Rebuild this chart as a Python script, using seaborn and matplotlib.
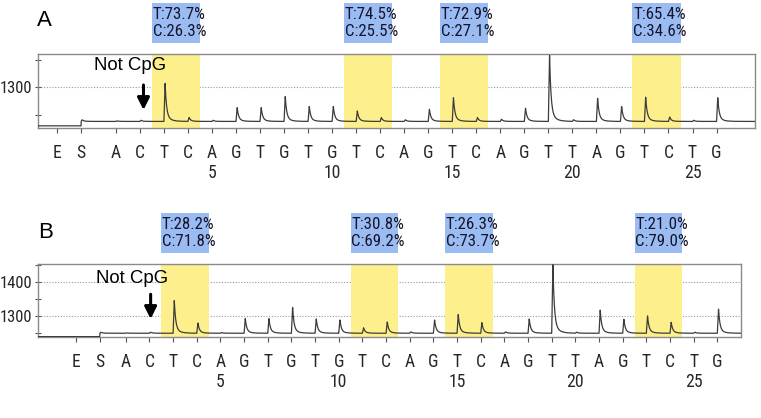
import numpy as np
import matplotlib
matplotlib.use("Agg")
import matplotlib.pyplot as plt
import seaborn as sns
from matplotlib import font_manager
from matplotlib.patches import Rectangle
from matplotlib.transforms import blended_transform_factory
from matplotlib.ticker import FixedLocator

W, H = 761, 418

# dispensation order (after E and S)
dispensation = list("ACTCAGTGTGTCAGTCAGTTAGTCTG")

# peak heights above baseline
heights_a = [1, 2, 69, 7, 2, 25, 25, 45, 27, 27, 19, 7, 3, 22, 43, 7, 4, 24, 120, 3, 42, 27, 44, 8, 2, 43]
heights_b = [1, 3, 96, 30, 2, 43, 43, 76, 42, 39, 16, 33, 4, 39, 55, 31, 4, 42, 202, 3, 68, 41, 51, 32, 3, 71]

# CpG sites (position of the T of each T/C pair)
cpg_pos = [3, 11, 15, 23]
pct_t_a = [73.7, 74.5, 72.9, 65.4]
pct_c_a = [26.3, 25.5, 27.1, 34.6]
pct_t_b = [28.2, 30.8, 26.3, 21.0]
pct_c_b = [71.8, 69.2, 73.7, 79.0]

REG = ["Liberation Sans", "DejaVu Sans"]
YELLOW = "#fdf08c"
BLUE = "#9bbbf3"
LINE = "#3c3c3c"

# narrow font if there is one, otherwise smaller regular text
installed = {f.name for f in font_manager.fontManager.ttflist}
narrow = None
for cand in ["Liberation Sans Narrow", "Roboto Condensed", "Open Sans Condensed",
             "DejaVu Sans Condensed", "Noto Sans Condensed"]:
    if cand in installed:
        narrow = cand
        break
if narrow:
    NARROW = [narrow, "DejaVu Sans"]
    fs_tick, fs_y, fs_box = 12.7, 12.0, 12.2
else:
    NARROW = REG
    fs_tick, fs_y, fs_box = 12.0, 10.4, 10.2

sns.set_theme(style="white")
plt.rcParams["font.family"] = REG


def trace(heights, s_pos, base_pre, base_post, xlim):
    x = np.arange(xlim[0], xlim[1], 0.01)
    y = np.where(x < s_pos, base_pre, base_post).astype(float)
    pos = list(range(1, len(heights) + 1)) + [s_pos]
    hh = list(heights) + [3]
    for p, h in zip(pos, hh):
        d = x - p
        rise = np.clip(d / 0.05, 0, 1)
        dd = np.clip(d - 0.05, 0, None)
        decay = 0.85 * np.exp(-dd / 0.06) + 0.15 * np.exp(-dd / 0.2)
        y += h * np.where(d < 0, 0, np.where(d < 0.05, rise, decay))
    return x, y


def panel(rect, heights, e_pos, s_pos, base_pre, base_post, xlim, ylim,
          major, minor, pt, pc, box_px, letter, letter_px, note_px, arrow_x, arrow_px):
    fig = plt.gcf()
    ax = fig.add_axes(rect)
    x, y = trace(heights, s_pos, base_pre, base_post, xlim)
    sns.lineplot(x=x, y=y, ax=ax, color=LINE, linewidth=0.9, estimator=None, sort=False, zorder=3)
    ax.set_xlim(*xlim)
    ax.set_ylim(*ylim)

    for p in cpg_pos:
        ax.axvspan(p - 0.5, p + 1.5, color=YELLOW, zorder=1, lw=0)

    ax.set_axisbelow(True)
    ax.yaxis.set_major_locator(FixedLocator(major))
    ax.yaxis.set_minor_locator(FixedLocator(minor))
    ax.yaxis.grid(True, which="major", linestyle=(0, (1, 1.5)), color="#9a9a9a", linewidth=0.8)
    ax.xaxis.grid(False)

    ticks = [e_pos, s_pos] + list(range(1, len(dispensation) + 1))
    labels = ["E", "S"]
    for i, b in enumerate(dispensation, start=1):
        labels.append(f"{b}\n{i}" if i % 5 == 0 else b)
    ax.set_xticks(ticks)
    ax.set_xticklabels(labels, fontfamily=NARROW, fontsize=fs_tick, linespacing=1.15)
    ax.tick_params(axis="x", direction="out", length=3.5, width=0.8, color="#555555", pad=7.5, bottom=True)
    ax.tick_params(axis="y", which="both", direction="inout", length=5, width=0.8,
                   color="#555555", pad=1.5, left=True)
    for t in ax.get_yticklabels():
        t.set_fontfamily(NARROW)
        t.set_fontsize(fs_y)
    for s in ax.spines.values():
        s.set_color("#8a8a8a")
        s.set_linewidth(1.0)
    ax.set_xlabel("")
    ax.set_ylabel("")

    tr = blended_transform_factory(ax.transData, fig.transFigure)
    top, bot = box_px
    for p, t, c in zip(cpg_pos, pt, pc):
        ax.add_patch(Rectangle((p - 0.5, 1 - bot / H), 2, (bot - top) / H, transform=tr,
                               facecolor=BLUE, edgecolor="none", clip_on=False, zorder=4))
        ax.text(p - 0.47, 1 - (top + bot) / 2 / H, f"T:{t:.1f}%\nC:{c:.1f}%", transform=tr,
                ha="left", va="center", fontfamily=NARROW, fontsize=fs_box, linespacing=1.2,
                color="#15152a", zorder=5, clip_on=False)

    fig.text(letter_px[0] / W, 1 - letter_px[1] / H, letter, ha="center", va="center",
             fontsize=16, fontfamily=REG, color="black")
    fig.text(note_px[0] / W, 1 - note_px[1] / H, "Not CpG", ha="center", va="center",
             fontsize=13.4, fontfamily=REG, color="black")
    ax.annotate("", xy=(arrow_x, 1 - arrow_px[1] / H), xytext=(arrow_x, 1 - arrow_px[0] / H),
                xycoords=tr, textcoords=tr,
                arrowprops=dict(arrowstyle="-|>,head_length=0.6,head_width=0.3",
                                color="black", lw=2.2, shrinkA=0, shrinkB=0))
    return ax


fig = plt.figure(figsize=(W / 100, H / 100), dpi=100)
fig.patch.set_facecolor("white")

panel([38 / W, 1 - 128.3 / H, (755 - 38) / W, (128.3 - 54.3) / H],
      heights_a, -1.45, -0.45, 1230, 1238, (-2.24, 27.6), (1225.5, 1360),
      [1300], [1250, 1350], pct_t_a, pct_c_a, (3.3, 43.3),
      "A", (44, 20), (130, 66), 2.15, (85, 110))

panel([38 / W, 1 - 337.3 / H, (741 - 38) / W, (337.3 - 263.7) / H],
      heights_b, -1.1, -0.1, 1240, 1250, (-2.71, 27.0), (1238, 1455),
      [1300, 1400], [1250, 1350, 1450], pct_t_b, pct_c_b, (213.3, 253.3),
      "B", (46, 232.5), (132, 278.7), 2.05, (294.3, 319))

fig.savefig("out.png", dpi=100)
